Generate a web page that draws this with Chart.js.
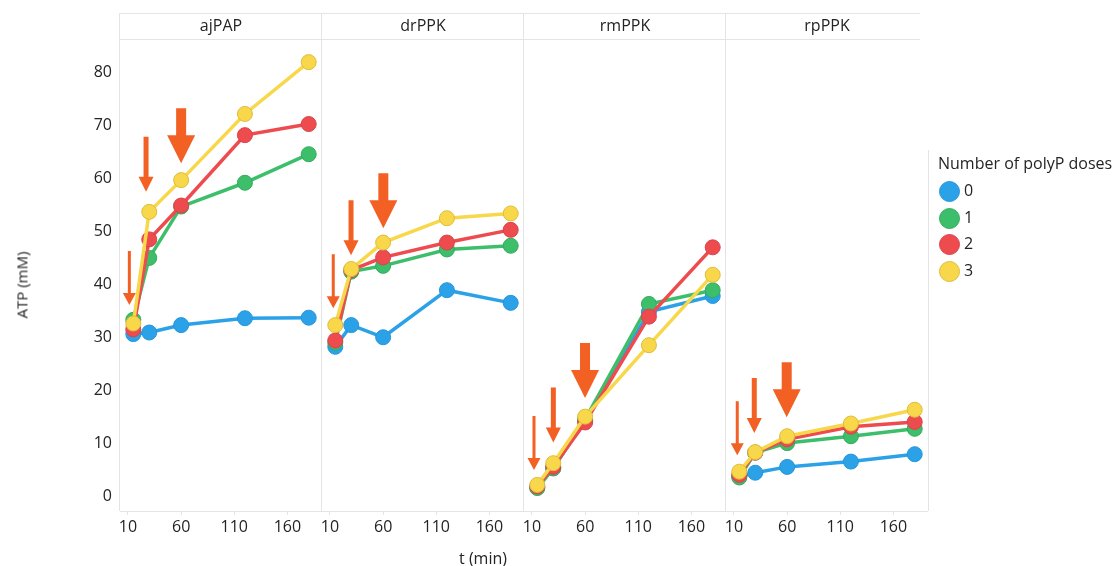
<!DOCTYPE html>
<html>
<head>
<meta charset="utf-8">
<title>ATP over time by number of polyP doses</title>
<script src="https://cdn.jsdelivr.net/npm/chart.js@4.4.1/dist/chart.umd.min.js"></script>
<style>
  html, body { margin: 0; padding: 0; background: #fff; }
  #wrap { position: relative; width: 1120px; height: 566px; overflow: hidden;
          font-family: "Open Sans", "Noto Sans", sans-serif; color: #252423; }
  #wrap canvas { position: absolute; left: 0; top: 0; }
  .ttl { position: absolute; white-space: nowrap; line-height: 1; }
  #ytitle { left: 22px; top: 285px; font-size: 15px; transform: translate(-50%, -50%) rotate(-90deg); }
  #xtitle { left: 483px; top: 558px; font-size: 16px; transform: translate(-50%, -50%); }
  #legend { position: absolute; left: 938px; top: 152px; }
  #legend .head { font-size: 16px; line-height: 22px; white-space: nowrap; margin-bottom: 4px; }
  #legend .item { position: relative; height: 26.7px; }
  #legend .dot { position: absolute; left: 1px; top: 3px; width: 19px; height: 19px; border-radius: 50%; border: 1px solid; }
  #legend .lab { position: absolute; left: 26px; top: 1px; font-size: 16px; line-height: 22px; }
</style>
</head>
<body>
<div id="wrap">
  <canvas id="c0" width="1120" height="566"></canvas>
  <canvas id="c1" width="1120" height="566"></canvas>
  <canvas id="c2" width="1120" height="566"></canvas>
  <canvas id="c3" width="1120" height="566"></canvas>
  <div id="ytitle" class="ttl">ATP (mM)</div>
  <div id="xtitle" class="ttl">t (min)</div>
  <div id="legend"></div>
</div>
<script>
// Sampling times (min) and x-axis tick labels
const times = [15, 30, 60, 120, 180];
const xTickValues = [10, 60, 110, 160];
const yTickValues = [0, 10, 20, 30, 40, 50, 60, 70, 80];

// Enzymes (one panel each) and number of polyP doses (one series each)
const enzymes = ['ajPAP', 'drPPK', 'rmPPK', 'rpPPK'];
const doses = ['0', '1', '2', '3'];

// ATP (mM) per enzyme; rows are 0, 1, 2, 3 doses
const ajPAP = [
  [30.6, 30.9, 32.3, 33.6, 33.7],
  [33.3, 45.0, 54.7, 59.2, 64.6],
  [31.5, 48.5, 54.9, 68.2, 70.3],
  [32.6, 53.7, 59.7, 72.2, 82.0]
];
const drPPK = [
  [28.2, 32.3, 30.0, 38.9, 36.5],
  [29.0, 42.4, 43.5, 46.6, 47.3],
  [29.4, 42.7, 45.1, 47.9, 50.3],
  [32.3, 42.9, 47.9, 52.5, 53.4]
];
const rmPPK = [
  [1.6, 5.3, 14.3, 34.8, 37.8],
  [1.5, 5.2, 14.5, 36.3, 38.9],
  [1.8, 5.5, 13.9, 33.9, 47.0],
  [2.1, 6.2, 15.0, 28.5, 41.8]
];
const rpPPK = [
  [3.7, 4.4, 5.5, 6.5, 7.9],
  [3.5, 8.2, 10.0, 11.3, 12.7],
  [4.0, 8.2, 10.7, 13.1, 14.0],
  [4.6, 8.3, 11.3, 13.7, 16.3]
];
const panelValues = [ajPAP, drPPK, rmPPK, rpPPK];

// Dose-time markers: [t (min), ATP at arrow tip]; small, medium, large arrow
const ajPAPArrows = [[11.3, 36.1], [27.0, 57.5], [60.0, 62.9]];
const drPPKArrows = [[13.1, 35.5], [29.8, 45.5], [60.2, 50.6]];
const rmPPKArrows = [[11.9, 4.9], [30.1, 10.1], [59.9, 18.5]];
const rpPPKArrows = [[13.1, 7.7], [29.1, 11.9], [59.6, 14.9]];
const panelArrows = [ajPAPArrows, drPPKArrows, rmPPKArrows, rpPPKArrows];

// ---- styling ----
const FONT = '"Open Sans", "Noto Sans", sans-serif';
const TEXT = '#252423';
const FRAME = '#E4E4E4';
const ARROW = '#F26024';
const fill = ['#2BA2E8', '#3DBE6B', '#EE4B4F', '#F8D84A'];
const edge = ['#2795D9', '#35AA5E', '#D8444A', '#DDBD3A'];
const arrowShapes = [
  { len: 54, head: 12, headW: 13, shaft: 3 },
  { len: 55, head: 15, headW: 15, shaft: 5 },
  { len: 55, head: 28, headW: 28, shaft: 10 }
];

const PANEL_L = 120, PANEL_W = 202, TOP = 39, BOTTOM = 511, STRIP_TOP = 13;
const X_MIN = 2.5, X_MAX = 192.5, Y_MIN = -2.835, Y_MAX = 86.37;

// Facet frame: header strip with the enzyme name, panel borders
const facetFrame = {
  id: 'facetFrame',
  beforeDraw(chart, args, opts) {
    const { ctx, chartArea: a } = chart;
    ctx.save();
    ctx.strokeStyle = FRAME;
    ctx.lineWidth = 1;
    const stripR = opts.last ? 920 : a.right;
    ctx.beginPath();
    ctx.moveTo(a.left, STRIP_TOP + 0.5); ctx.lineTo(stripR, STRIP_TOP + 0.5);
    ctx.moveTo(a.left, TOP + 0.5); ctx.lineTo(stripR, TOP + 0.5);
    ctx.moveTo(a.left - 0.5, STRIP_TOP); ctx.lineTo(a.left - 0.5, a.bottom);
    ctx.moveTo(a.left, a.bottom + 0.5); ctx.lineTo(a.right, a.bottom + 0.5);
    if (opts.last) { ctx.moveTo(a.right + 0.5, 150); ctx.lineTo(a.right + 0.5, a.bottom); }
    ctx.stroke();
    ctx.fillStyle = TEXT;
    ctx.font = '16px ' + FONT;
    ctx.textAlign = 'center';
    ctx.textBaseline = 'middle';
    ctx.fillText(opts.title, (a.left + a.right) / 2, (STRIP_TOP + TOP) / 2 + 0.5);
    ctx.restore();
  }
};

// Dose arrows, placed through the chart's own scales
const doseArrows = {
  id: 'doseArrows',
  afterDatasetsDraw(chart, args, opts) {
    const { ctx, scales } = chart;
    ctx.save();
    ctx.fillStyle = ARROW;
    opts.marks.forEach(([t, v], i) => {
      const s = arrowShapes[i];
      const x = scales.x.getPixelForValue(t);
      const tip = scales.y.getPixelForValue(v);
      const top = tip - s.len, neck = tip - s.head;
      ctx.beginPath();
      ctx.moveTo(x - s.shaft / 2, top);
      ctx.lineTo(x + s.shaft / 2, top);
      ctx.lineTo(x + s.shaft / 2, neck);
      ctx.lineTo(x + s.headW / 2, neck);
      ctx.lineTo(x, tip);
      ctx.lineTo(x - s.headW / 2, neck);
      ctx.lineTo(x - s.shaft / 2, neck);
      ctx.closePath();
      ctx.fill();
    });
    ctx.restore();
  }
};

function makeChart(p) {
  const left = PANEL_L + PANEL_W * p;
  const right = left + PANEL_W;
  const datasets = doses.map((d, k) => ({
    label: d,
    data: times.map((t, j) => ({ x: t, y: panelValues[p][k][j] })),
    borderColor: fill[k],
    backgroundColor: fill[k],
    borderWidth: 3.5,
    pointRadius: 7.5,
    pointHoverRadius: 7.5,
    pointBackgroundColor: fill[k],
    pointBorderColor: edge[k],
    pointBorderWidth: 1,
    tension: 0,
    clip: false,
    order: doses.length - 1 - k
  }));
  const yScale = {
    type: 'linear', min: Y_MIN, max: Y_MAX,
    display: p === 0,
    afterBuildTicks: s => { s.ticks = yTickValues.map(v => ({ value: v })); },
    grid: { display: false, drawTicks: false },
    border: { display: false },
    ticks: { font: { size: 16, family: FONT }, color: TEXT, padding: 8, autoSkip: false }
  };
  if (p === 0) yScale.afterFit = s => { s.width = PANEL_L; };
  return new Chart(document.getElementById('c' + p), {
    type: 'line',
    data: { datasets },
    plugins: [facetFrame, doseArrows],
    options: {
      responsive: false,
      animation: false,
      events: [],
      layout: { padding: { left: p === 0 ? 0 : left, right: 1120 - right, top: TOP, bottom: 0 } },
      scales: {
        x: {
          type: 'linear', min: X_MIN, max: X_MAX,
          afterBuildTicks: s => { s.ticks = xTickValues.map(v => ({ value: v })); },
          afterFit: s => { s.height = 566 - BOTTOM; },
          grid: { display: true, drawOnChartArea: false, drawTicks: true, tickLength: 4, color: FRAME },
          border: { display: false },
          ticks: { font: { size: 16, family: FONT }, color: TEXT, padding: 3, maxRotation: 0, autoSkip: false }
        },
        y: yScale
      },
      plugins: {
        legend: { display: false },
        tooltip: { enabled: false },
        facetFrame: { title: enzymes[p], last: p === enzymes.length - 1 },
        doseArrows: { marks: panelArrows[p] }
      }
    }
  });
}

enzymes.forEach((e, p) => makeChart(p));

// Legend: Number of polyP doses
const legend = document.getElementById('legend');
legend.innerHTML = '<div class="head">Number of polyP doses</div>' +
  doses.map((d, k) =>
    `<div class="item"><span class="dot" style="background:${fill[k]};border-color:${edge[k]}"></span><span class="lab">${d}</span></div>`
  ).join('');
</script>
</body>
</html>
